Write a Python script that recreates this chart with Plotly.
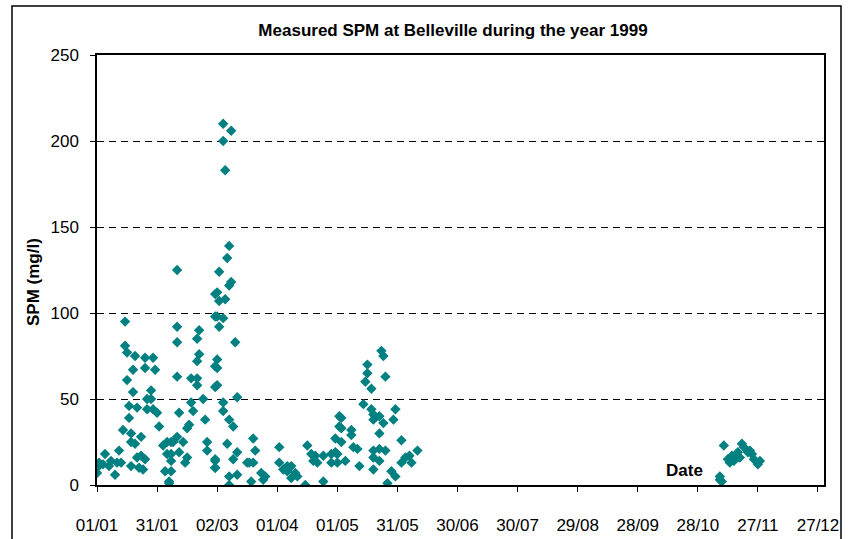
import pandas as pd
import plotly.graph_objects as go

# Day offsets from 01/01/1999 and measured SPM (mg/l)
day_of_year = [
    0, 0, 1, 3, 4, 6, 7, 9, 10, 11, 12, 13,
    14, 14, 15, 15, 16, 16, 17, 17, 17, 18, 18, 19, 19, 20, 20, 21, 22, 22, 23, 24, 24, 24,
    25, 25, 27, 27, 28, 28, 29, 30,
    31, 33, 34, 35, 35, 36, 36, 37, 37, 37, 37, 38,
    40, 40, 40, 40, 40, 41, 41, 43, 44, 45, 45, 46, 47, 47, 48,
    50, 50, 50, 50, 51, 51, 53, 54, 55, 55,
    59, 59, 59, 59, 59, 59, 59, 59,
    60, 60, 60, 60, 60, 61, 61, 61, 63, 63, 63, 63, 63, 64, 64, 65, 65,
    66, 66, 66, 66, 66, 67, 67, 68, 68, 69, 70, 70, 70,
    75, 76, 77, 78, 78, 79, 82, 83, 84,
    91, 91, 93, 95, 95, 97, 97, 99, 100, 104, 105, 107, 108, 109, 110,
    113, 113, 117, 117, 119, 119, 120, 120, 121, 121, 122, 122, 122,
    124, 127, 127, 128, 130, 131, 133, 134, 135, 135, 137, 137,
    138, 138, 138, 138, 138, 141, 141, 141, 141, 142, 143, 143, 144, 144,
    145, 147, 148, 149, 149, 152, 152, 154, 156, 157, 160,
    311, 311, 312, 313, 315, 316, 317, 318, 320, 321, 322, 323, 325, 326, 327, 328, 330, 331,
]
spm_mg_l = [
    10, 7, 13, 12, 18, 11, 14, 6, 13, 20, 13, 32,
    95, 81, 77, 61, 46, 39, 30, 25, 11, 54, 67, 75, 24, 45, 16, 10, 28, 17, 9, 74, 68, 15,
    50, 44, 55, 50, 74, 44, 67, 42,
    34, 23, 8, 25, 18, 2, 1, 25, 18, 14, 8, 25,
    63, 92, 83, 125, 28, 42, 19, 25, 13, 16, 33, 35, 62, 48, 43,
    58, 62, 72, 85, 90, 76, 50, 38, 25, 20,
    111, 98, 69, 57, 14, 10, 15, 10,
    73, 68, 58, 98, 112, 124, 107, 92, 210, 200, 97, 48, 43, 183, 108, 132, 24,
    139, 116, 38, 5, 0, 206, 118, 34, 15, 83, 51, 19, 6,
    13, 13, 2, 27, 13, 20, 7, 3, 5,
    22, 13, 9, 11, 8, 4, 11, 7, 5, 0, 23, 18, 14, 17, 13,
    2, 17, 13, 18, 19, 27, 18, 13, 34, 40, 39, 33, 25,
    14, 32, 29, 22, 21, 11, 47, 60, 70, 65, 56, 44,
    41, 38, 20, 16, 9, 40, 30, 21, 14, 78, 75, 36, 63, 20,
    1, 8, 38, 44, 5, 26, 13, 16, 17, 13, 20,
    5, 3, 2, 23, 15, 13, 17, 14, 19, 16, 24, 22, 19, 20, 18, 15, 12, 14,
]

title_text = "Measured SPM at Belleville during the year 1999"
y_title = "SPM (mg/l)"
x_title = "Date"

start = pd.Timestamp("1999-01-01")
dates = [start + pd.Timedelta(days=d) for d in day_of_year]

W, H = 850, 539
L, R, T, B = 97, 26, 55, 54
pw, ph = W - L - R, H - T - B

FAM = "Liberation Sans, Arial, sans-serif"
tickfont = dict(family=FAM, size=17, color="black")
boldfont = dict(family=FAM, size=17, color="black")

fig = go.Figure()
fig.add_trace(go.Scatter(
    x=dates, y=spm_mg_l, mode="markers",
    marker=dict(symbol="diamond", size=8, color="#008080", line=dict(width=0)),
    showlegend=False, hoverinfo="skip",
))

fig.update_layout(
    width=W, height=H,
    margin=dict(l=L, r=R, t=T, b=B, autoexpand=False),
    paper_bgcolor="white", plot_bgcolor="white",
    font=tickfont,
    title=dict(text="<b>" + title_text + "</b>", x=453 / W, xref="container",
               y=1 - 30 / H, yref="container", xanchor="center", yanchor="middle",
               font=dict(family=FAM, size=17, color="black"), automargin=False),
    xaxis=dict(
        type="date", automargin=False,
        range=[start, start + pd.Timedelta(days=363)],
        tick0="1999-01-01", dtick=30 * 86400000, tickformat="%d/%m",
        ticks="outside", ticklen=5, tickcolor="black", ticklabelstandoff=19,
        showline=True, linecolor="black", linewidth=1.5, mirror=True,
        showgrid=False, zeroline=False, tickfont=tickfont,
    ),
    yaxis=dict(
        range=[0, 250], tick0=0, dtick=50, automargin=False,
        ticks="outside", ticklen=5, tickcolor="black", ticklabelstandoff=8,
        showline=True, linecolor="black", linewidth=1.5, mirror=True,
        showgrid=True, gridcolor="black", gridwidth=1, griddash="7px,5px",
        zeroline=False, tickfont=tickfont,
    ),
    annotations=[
        dict(text="<b>" + y_title + "</b>", xref="paper", yref="paper",
             x=(33 - L) / pw, y=(H - B - 282) / ph, textangle=-90, showarrow=False,
             xanchor="center", yanchor="middle", font=boldfont),
        dict(text="<b>" + x_title + "</b>", xref="paper", yref="paper",
             x=(684 - L) / pw, y=(H - B - 470) / ph, showarrow=False,
             xanchor="center", yanchor="middle", font=boldfont),
    ],
    shapes=[
        dict(type="rect", xref="paper", yref="paper",
             x0=(12 - L) / pw, x1=(841 - L) / pw,
             y0=(H - B - 560) / ph, y1=(H - B - 6) / ph,
             line=dict(color="black", width=1.5), fillcolor="rgba(0,0,0,0)", layer="below"),
    ],
)

fig.write_html("out.html", config={"displayModeBar": False},
               post_script="document.body.style.margin='0px';")
